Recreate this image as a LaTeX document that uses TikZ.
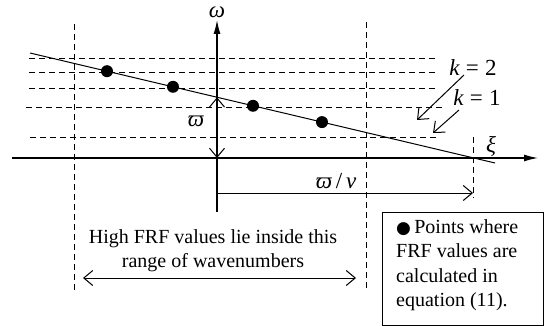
\documentclass[tikz,border=0pt]{standalone}
\usepackage{fontspec}
\setmainfont{Liberation Serif}
\newfontfamily\dejavu{DejaVu Sans}
\usetikzlibrary{arrows.meta}
\tikzset{
  dsh/.style={line width=0.9pt, dash pattern=on 6pt off 4pt},
  axisline/.style={line width=1.3pt, -{Latex[length=14pt,width=7pt]}},
  barb/.style={line width=1pt, {Straight Barb[length=9pt,width=15pt]}-{Straight Barb[length=9pt,width=15pt]}},
  onebarb/.style={line width=1pt, -{Straight Barb[length=9pt,width=15pt]}},
  lbl/.style={font=\fontsize{20}{24}\selectfont, inner sep=0pt},
  mlbl/.style={font=\fontsize{23}{26}\selectfont, inner sep=0pt},
  pt/.style={circle, fill=black, inner sep=0pt, minimum size=12pt}
}
\begin{document}
\begin{tikzpicture}[x=1pt,y=-1pt]
\useasboundingbox (0,0) rectangle (546,326);
% dashed horizontal lines
\foreach \yy/\xa/\xb in {58/29/438, 72/29/438, 88/29/438, 107/26/443, 137/30/438}
  \draw[dsh] (\xa,\yy) -- (\xb,\yy);
% dashed vertical lines
\draw[dsh] (74,24) -- (74,292);
\draw[dsh] (366,22) -- (366,290);
\draw[dsh] (473,137) -- (473,198);
% axes
\coordinate (xs) at (12,158);
\coordinate (xe) at (538,158);
\coordinate (ys) at (217,212);
\coordinate (ye) at (217,20);
\coordinate (O) at (217,158);
\draw[axisline] (xs) -- (xe);
\draw[axisline] (ys) -- (ye);
\node[mlbl, anchor=base] (omega) at (217,18) {\itshape ω};
\node[mlbl] (xi) at (491,146) {\itshape ξ};
% sloped line
\coordinate (la) at (30,53);
\coordinate (lb) at (495,163);
\coordinate (P) at (217,97.3);
\draw[line width=1pt] (la) -- (lb);
% points
\node[pt] (p1) at (107,71.2) {};
\node[pt] (p2) at (173,86.8) {};
\node[pt] (p3) at (253,105.8) {};
\node[pt] (p4) at (322,122.1) {};
% varpi arrow
\draw[barb] (P) -- (O);
\node[mlbl] (vp) at (196,121) {\itshape ϖ};
% varpi/v arrow
\coordinate (ha) at (217,193);
\coordinate (hb) at (473,193);
\draw[onebarb] (ha) -- (hb);
\node[mlbl] (vpv) at (336,181) {{\itshape ϖ}\,/\,{\itshape v}};
% k labels
\node[mlbl] (k2) at (473,68) {{\itshape k}\;=\;2};
\node[mlbl] (k1) at (477,98) {{\itshape k}\;=\;1};
\coordinate (k2s) at (464,75);
\coordinate (k2e) at (417,120);
\coordinate (k1s) at (459,110);
\coordinate (k1e) at (433,133);
\draw[onebarb] (k2s) -- (k2e);
\draw[onebarb] (k1s) -- (k1e);
% range arrow
\coordinate (ra) at (83,278);
\coordinate (rb) at (356,278);
\draw[barb] (ra) -- (rb);
\node[lbl, align=center] (range) at (213,251) {High FRF values lie inside this\\range of wavenumbers};
% legend box
\node[draw, line width=1pt, minimum width=161pt, minimum height=113pt, inner sep=0pt] (box) at (462.5,268.5) {};
\node[lbl, anchor=north west, align=left, font=\fontsize{20}{24.5}\selectfont] (legend) at (396,219) {{\dejavu\fontsize{17}{17}\selectfont ●}\,Points where\\FRF values are\\calculated in\\equation (11).};
\end{tikzpicture}
\end{document}
